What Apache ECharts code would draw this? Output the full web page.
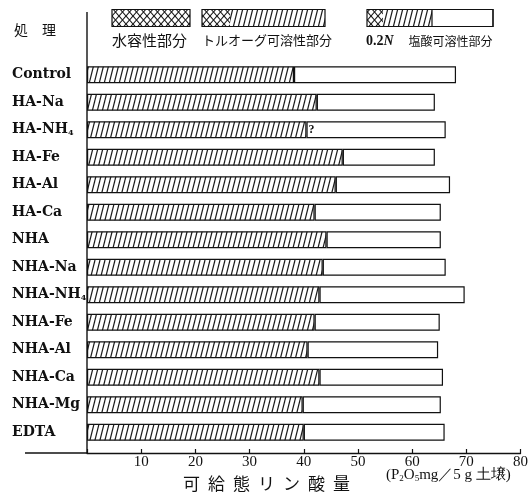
<!DOCTYPE html>
<html>
<head>
<meta charset="utf-8">
<script src="https://cdn.jsdelivr.net/npm/echarts@6/dist/echarts.min.js"></script>
<style>
html,body{margin:0;padding:0;background:#fff;}
#chart{width:531px;height:498px;}
</style>
</head>
<body>
<div id="chart"></div>
<script>
// ---- data ----
const categories = ['Control','HA-Na','HA-NH4','HA-Fe','HA-Al','HA-Ca','NHA','NHA-Na','NHA-NH4','NHA-Fe','NHA-Al','NHA-Ca','NHA-Mg','EDTA'];
// cumulative amount up to Truog-soluble part
const truogSoluble = [38.2, 42.4, 40.5, 47.2, 45.9, 42.0, 44.2, 43.5, 42.9, 42.0, 40.7, 42.9, 39.8, 40.0];
// cumulative amount up to 0.2N HCl-soluble part (total bar length)
const hclSoluble = [68.1, 64.2, 66.2, 64.2, 67.0, 65.3, 65.3, 66.2, 69.7, 65.1, 64.8, 65.7, 65.3, 66.0];
const uncertainBoundary = ['HA-NH4'];
const xTicks = [0, 10, 20, 30, 40, 50, 60, 70, 80];
const legendNames = ['水容性部分', 'トルオーグ可溶性部分', '塩酸可溶性部分'];
const headerText = '処　理';
const axisTitle = '可給態リン酸量';

// ---- patterns ----
function diagTile() {
  const c = document.createElement('canvas'); c.width = 5; c.height = 20;
  const g = c.getContext('2d');
  g.fillStyle = '#fff'; g.fillRect(0, 0, 5, 20);
  g.strokeStyle = '#1a1a1a'; g.lineWidth = 1.25;
  for (const x0 of [-5, 0, 5]) { g.beginPath(); g.moveTo(x0, 20); g.lineTo(x0 + 5, 0); g.stroke(); }
  return c;
}
function crossTile() {
  const c = document.createElement('canvas'); c.width = 7; c.height = 8;
  const g = c.getContext('2d');
  g.fillStyle = '#fff'; g.fillRect(0, 0, 7, 8);
  g.strokeStyle = '#1a1a1a'; g.lineWidth = 1.1;
  for (const x0 of [-7, 0, 7]) {
    g.beginPath(); g.moveTo(x0, 8); g.lineTo(x0 + 7, 0); g.stroke();
    g.beginPath(); g.moveTo(x0, 0); g.lineTo(x0 + 7, 8); g.stroke();
  }
  return c;
}
const diagPattern = { image: diagTile(), repeat: 'repeat' };
const crossPattern = { image: crossTile(), repeat: 'repeat' };

const serif = 'DejaVu Serif';
const jp = 'Noto Sans CJK JP';

const chart = echarts.init(document.getElementById('chart'), null, { renderer: 'canvas' });

const border = { borderColor: '#111', borderWidth: 1.2 };

const truogData = truogSoluble;
const hclData = hclSoluble.map((v, i) => +(v - truogSoluble[i]).toFixed(2));

const spacedTitle = axisTitle.split('').map(ch => '{c|' + ch + '}').join('{s|　}');

const option = {
  backgroundColor: '#fff',
  animation: false,
  grid: { left: 87, right: 8, top: 61, height: 385, containLabel: false },
  xAxis: {
    type: 'value', min: 0, max: 80, interval: 10, offset: 7,
    axisLine: { show: true, lineStyle: { color: '#111', width: 1.4 } },
    axisTick: { show: true, inside: true, length: 4, lineStyle: { color: '#111', width: 1.2 } },
    axisLabel: { margin: 2, color: '#111', fontFamily: 'Liberation Serif', fontSize: 15,
      formatter: v => (v === 0 ? '' : String(v)) },
    splitLine: { show: false }
  },
  yAxis: {
    type: 'category', inverse: true, data: categories,
    axisLine: { show: false }, axisTick: { show: false },
    axisLabel: {
      margin: 75, align: 'left', color: '#111',
      fontFamily: serif, fontWeight: 'bold', fontSize: 14,
      formatter: v => v.replace(/NH4$/, 'NH{sub|4}'),
      rich: { sub: { fontFamily: serif, fontWeight: 'bold', fontSize: 8, verticalAlign: 'bottom', padding: [6, 0, 0, 0] } }
    }
  },
  series: [
    {
      name: legendNames[1], type: 'bar', stack: 'p', barWidth: 17,
      data: truogData,
      itemStyle: Object.assign({ color: diagPattern }, border)
    },
    {
      name: legendNames[2], type: 'bar', stack: 'p', barWidth: 17,
      data: hclData,
      itemStyle: Object.assign({ color: '#fff' }, border),
      label: {
        show: true, position: 'insideLeft', distance: 2,
        formatter: p => (uncertainBoundary.includes(categories[p.dataIndex]) ? '?' : ''),
        color: '#111', fontFamily: 'Liberation Serif', fontWeight: 'bold', fontSize: 12
      }
    }
  ],
  title: [
    { text: spacedTitle, left: 183, top: 475, padding: 0,
      textStyle: { fontWeight: 'normal',
        rich: { c: { fontFamily: jp, fontSize: 17, fontWeight: 'normal', color: '#111' }, s: { fontFamily: jp, fontSize: 8, fontWeight: 'normal' } } } },
    { text: '(P{sub|2}O{sub|5}mg／5 g 土壌)', left: 386, top: 468, padding: 0,
      textStyle: { fontFamily: 'Liberation Serif', fontSize: 15, color: '#111', fontWeight: 'normal',
        rich: { sub: { fontFamily: 'Liberation Serif', fontSize: 9, fontWeight: 'normal', color: '#111', verticalAlign: 'bottom' } } } },
    { text: headerText, left: 14, top: 23, padding: 0,
      textStyle: { fontFamily: jp, fontSize: 14, fontWeight: 'normal', color: '#111' } },
    { text: legendNames[0], left: 112, top: 33, padding: 0,
      textStyle: { fontFamily: jp, fontSize: 15, fontWeight: 'normal', color: '#111' } },
    { text: legendNames[1], left: 202, top: 34, padding: 0,
      textStyle: { fontFamily: jp, fontSize: 13, fontWeight: 'normal', color: '#111' } },
    { text: '{n|0.2}{i|N}{g|　}{j|' + legendNames[2] + '}', left: 366, top: 34, padding: 0,
      textStyle: { fontWeight: 'normal', rich: {
        n: { fontFamily: 'Liberation Serif', fontWeight: 'bold', fontSize: 14, color: '#111' },
        i: { fontFamily: 'Liberation Serif', fontStyle: 'italic', fontWeight: 'bold', fontSize: 14, color: '#111' },
        g: { fontSize: 15, fontWeight: 'normal' },
        j: { fontFamily: jp, fontSize: 12, fontWeight: 'normal', color: '#111' } } } }
  ],
  graphic: [
    // axis line extensions
    { type: 'line', shape: { x1: 87, y1: 12, x2: 87, y2: 453 }, style: { stroke: '#111', lineWidth: 1.4 }, silent: true },
    { type: 'line', shape: { x1: 25, y1: 453, x2: 87, y2: 453 }, style: { stroke: '#111', lineWidth: 1.4 }, silent: true },
    // legend swatch 1
    { type: 'rect', shape: { x: 112, y: 9.5, width: 78, height: 17 }, style: { fill: crossPattern, stroke: '#111', lineWidth: 1.2 } },
    // legend swatch 2
    { type: 'rect', shape: { x: 202, y: 9.5, width: 28, height: 17 }, style: { fill: crossPattern } },
    { type: 'rect', shape: { x: 230, y: 9.5, width: 95, height: 17 }, style: { fill: diagPattern } },
    { type: 'rect', shape: { x: 202, y: 9.5, width: 123, height: 17 }, style: { fill: 'none', stroke: '#111', lineWidth: 1.2 } },
    // legend swatch 3
    { type: 'rect', shape: { x: 367, y: 9.5, width: 16, height: 17 }, style: { fill: crossPattern } },
    { type: 'rect', shape: { x: 383, y: 9.5, width: 49, height: 17 }, style: { fill: diagPattern } },
    { type: 'rect', shape: { x: 432, y: 9.5, width: 61, height: 17 }, style: { fill: '#fff', stroke: '#111', lineWidth: 1.2 } },
    { type: 'rect', shape: { x: 367, y: 9.5, width: 126, height: 17 }, style: { fill: 'none', stroke: '#111', lineWidth: 1.2 } }
  ]
};
chart.setOption(option);
</script>
</body>
</html>
